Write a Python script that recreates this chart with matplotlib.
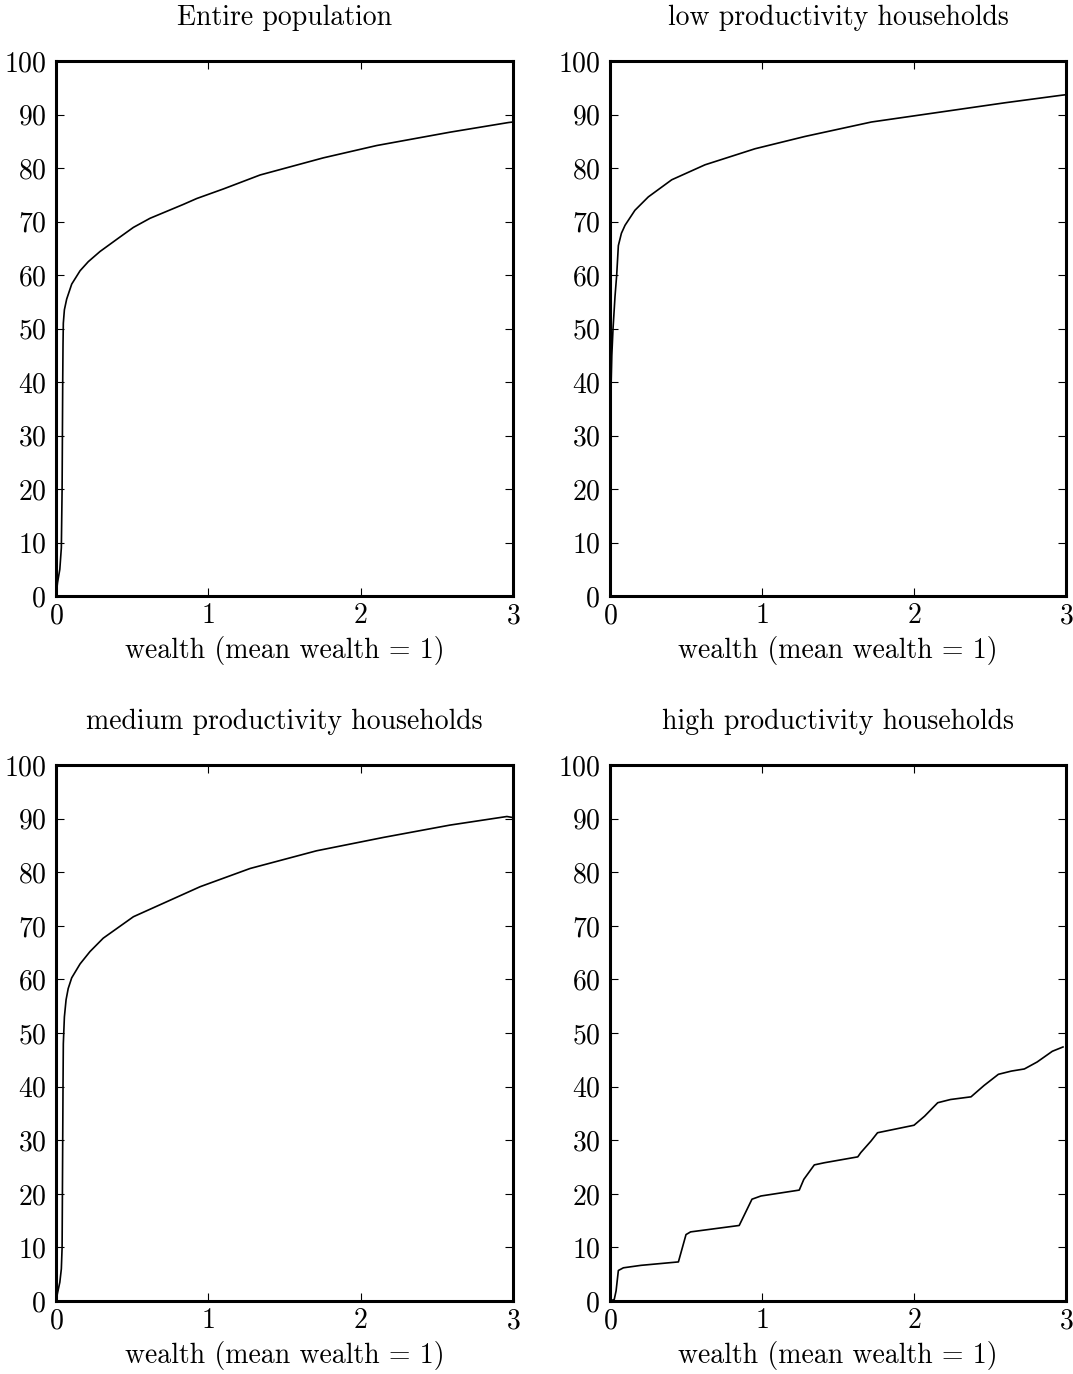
import matplotlib
matplotlib.use('Agg')
import matplotlib.pyplot as plt

# Panel titles
titles = ['Entire population', 'low productivity households',
          'medium productivity households', 'high productivity households']

# Cumulative share (%) against wealth (mean wealth = 1)
entire_x = [0, 0.01, 0.025, 0.035, 0.04, 0.042, 0.044, 0.046, 0.048, 0.055, 0.07,
            0.103, 0.158, 0.212, 0.289, 0.41, 0.508, 0.617, 0.836, 0.924, 1.10,
            1.34, 1.755, 2.105, 2.587, 2.97, 3.0]
entire_y = [0, 2.5, 5, 9, 20, 30, 40, 47, 51, 53.5, 55.5,
            58.3, 60.8, 62.5, 64.4, 66.9, 68.9, 70.6, 73.2, 74.3, 76.1,
            78.7, 81.9, 84.2, 86.7, 88.5, 88.6]

low_x = [0, 0.001, 0.003, 0.006, 0.012, 0.02, 0.033, 0.044, 0.055, 0.075, 0.099,
         0.164, 0.252, 0.406, 0.625, 0.954, 1.283, 1.72, 2.16, 2.6, 2.97, 3.0]
low_y = [0, 15, 30, 38, 45, 50, 56, 60, 65.5, 67.8, 69.3,
         72.1, 74.6, 77.8, 80.6, 83.6, 85.9, 88.6, 90.4, 92.2, 93.6, 93.7]

med_x = [0, 0.01, 0.025, 0.035, 0.04, 0.042, 0.044, 0.046, 0.048, 0.055, 0.066,
         0.08, 0.103, 0.158, 0.223, 0.31, 0.508, 0.727, 0.946, 1.274, 1.71, 2.15,
         2.587, 2.96, 3.0]
med_y = [0, 1.5, 3.5, 6, 10, 20, 30, 40, 48, 53, 56.2,
         58.3, 60.3, 62.9, 65.2, 67.7, 71.7, 74.5, 77.3, 80.7, 84.0, 86.5,
         88.8, 90.4, 90.2]

high_x = [0, 0.028, 0.04, 0.055, 0.088, 0.204, 0.45, 0.5, 0.53, 0.85, 0.934,
          0.993, 1.245, 1.275, 1.344, 1.41, 1.63, 1.65, 1.717, 1.76, 2.0,
          2.07, 2.156, 2.24, 2.375, 2.46, 2.555, 2.64, 2.726, 2.81, 2.91, 2.98]
high_y = [0, 0.3, 1.9, 5.7, 6.2, 6.66, 7.3, 12.4, 12.9, 14.1, 19.0,
          19.6, 20.7, 22.7, 25.4, 25.8, 26.9, 27.7, 29.85, 31.4, 32.8,
          34.5, 37.0, 37.6, 38.1, 40.2, 42.3, 42.9, 43.3, 44.6, 46.6, 47.4]

series = [(entire_x, entire_y), (low_x, low_y), (med_x, med_y), (high_x, high_y)]

x_ticks = [0, 1, 2, 3]
y_ticks = list(range(0, 101, 10))
x_label = 'wealth (mean wealth = 1)'

plt.rcParams['font.family'] = ['cmr10', 'DejaVu Serif']
plt.rcParams['axes.formatter.use_mathtext'] = True

fig = plt.figure(figsize=(10.73, 13.74), dpi=100)

# axes boxes in figure fractions (left, bottom, width, height)
boxes = [
    (0.0522, 0.5662, 0.4259, 0.3894),
    (0.5685, 0.5662, 0.4250, 0.3894),
    (0.0522, 0.0531, 0.4259, 0.3901),
    (0.5685, 0.0531, 0.4250, 0.3901),
]

for box, title, (xs, ys) in zip(boxes, titles, series):
    ax = fig.add_axes(box)
    ax.plot(xs, ys, color='black', linewidth=1.2)
    ax.set_xlim(0, 3)
    ax.set_ylim(0, 100)
    ax.set_xticks(x_ticks)
    ax.set_yticks(y_ticks)
    ax.tick_params(direction='in', length=6, width=0.8, top=True, right=True,
                   labelsize=20, pad=5)
    ax.tick_params(axis='y', pad=7)
    for sp in ax.spines.values():
        sp.set_linewidth(2.2)
    ax.set_xlabel(x_label, fontsize=20, labelpad=5)
    ax.set_title(title, fontsize=20, pad=26)

plt.savefig('out.png', dpi=100)
